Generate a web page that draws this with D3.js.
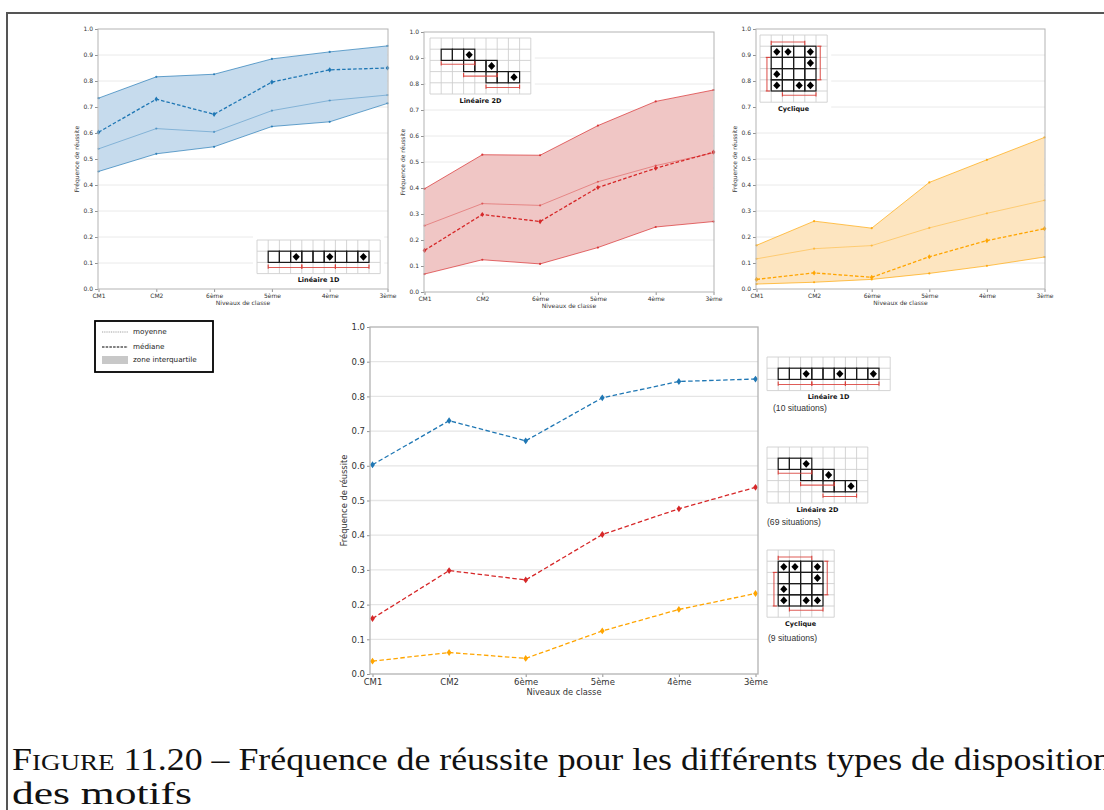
<!DOCTYPE html>
<html><head><meta charset="utf-8">
<script src="https://cdn.jsdelivr.net/npm/d3@7"></script>
<style>body{margin:0;background:#fff}svg{display:block}</style>
</head><body>
<svg id="c" width="1104" height="810"></svg>
<script>
// ---------- data ----------
const levels = ["CM1","CM2","6ème","5ème","4ème","3ème"];
const yTicks = [0,0.1,0.2,0.3,0.4,0.5,0.6,0.7,0.8,0.9,1.0];

// Linéaire 1D
const lin1dQ3     = [0.734,0.816,0.826,0.885,0.912,0.935];
const lin1dMedian = [0.603,0.730,0.672,0.796,0.843,0.850];
const lin1dMean   = [0.539,0.617,0.604,0.686,0.725,0.746];
const lin1dQ1     = [0.452,0.520,0.547,0.625,0.643,0.714];
// Linéaire 2D
const lin2dQ3     = [0.397,0.528,0.526,0.640,0.733,0.777];
const lin2dMean   = [0.255,0.340,0.333,0.424,0.486,0.535];
const lin2dMedian = [0.160,0.298,0.271,0.402,0.476,0.538];
const lin2dQ1     = [0.069,0.124,0.108,0.171,0.250,0.271];
// Cyclique
const cycQ3     = [0.168,0.261,0.234,0.410,0.497,0.583];
const cycMean   = [0.116,0.155,0.167,0.235,0.291,0.341];
const cycMedian = [0.037,0.062,0.045,0.124,0.186,0.232];
const cycQ1     = [0.019,0.026,0.037,0.060,0.089,0.123];

const typeNames = ["Linéaire 1D","Linéaire 2D","Cyclique"];
const situations = ["(10 situations)","(69 situations)","(9 situations)"];
const legendLabels = ["moyenne","médiane","zone interquartile"];
const captionLine1 = ["Figure"," 11.20 – Fréquence de réussite pour les différents types de disposition"];
const captionLine2 = "des motifs";

// icon patterns ('.' empty, 'X' outlined cell, 'D' outlined cell with diamond)
const icon1D = ["...........",
                ".XXDXXDXXD.",
                "..........."];
const icon2D = [".........",
                ".XXD.....",
                "...XXD...",
                ".....XXD.",
                "........."];
const iconCyc = ["......",
                 ".DDXD.",
                 ".XXXD.",
                 ".DXXX.",
                 ".DXDD.",
                 "......"];
// brackets: [x1,y1,x2,y2,tickDx,tickDy] in cell units
const br1D  = [[1,2.45,4,2.45,0,-1],[4,2.45,7,2.45,0,-1],[7,2.45,10,2.45,0,-1]];
const br2D  = [[1,2.35,4,2.35,0,-1],[3,3.4,6,3.4,0,-1],[5,4.42,8,4.42,0,-1]];
const brCyc = [[1,0.62,4,0.62,0,1],[5.38,1,5.38,4,-1,0],[2,5.38,5,5.38,0,-1],[0.62,2,0.62,5,1,0]];

// ---------- drawing ----------
const svg = d3.select("#c");
const SANS = "'DejaVu Sans', sans-serif";
const colBlue = "#1f77b4", colRed = "#d62728", colOrange = "#ffa500";
const CELL = 11.2;

// frame
svg.append("line").attr("x1",7).attr("x2",1104).attr("y1",13).attr("y2",13).attr("stroke","#555").attr("stroke-width",2);
svg.append("line").attr("x1",7).attr("x2",7).attr("y1",12).attr("y2",810).attr("stroke","#555").attr("stroke-width",2);

function diamondPath(cx, cy, rx, ry){
  return `M${cx},${cy-ry}L${cx+rx},${cy}L${cx},${cy+ry}L${cx-rx},${cy}Z`;
}

function drawIcon(pattern, brackets, label, gx, gy, fs){
  const rows = pattern.length, cols = pattern[0].length;
  const W = cols*CELL, H = rows*CELL;
  const g = svg.append("g").attr("transform",`translate(${gx},${gy})`);
  g.append("rect").attr("x",-4).attr("y",-4).attr("width",W+8).attr("height",H+16).attr("fill","#fff");
  g.selectAll("line.v").data(d3.range(cols+1)).join("line")
    .attr("x1",d=>d*CELL).attr("x2",d=>d*CELL).attr("y1",0).attr("y2",H)
    .attr("stroke","#cfcfcf").attr("stroke-width",0.9);
  g.selectAll("line.h").data(d3.range(rows+1)).join("line")
    .attr("y1",d=>d*CELL).attr("y2",d=>d*CELL).attr("x1",0).attr("x2",W)
    .attr("stroke","#cfcfcf").attr("stroke-width",0.9);
  const cells = [];
  pattern.forEach((row,r)=>row.split("").forEach((ch,c)=>{ if(ch!==".") cells.push({r,c,d:ch==="D"}); }));
  g.selectAll("rect.cell").data(cells).join("rect")
    .attr("x",d=>d.c*CELL).attr("y",d=>d.r*CELL).attr("width",CELL).attr("height",CELL)
    .attr("fill","none").attr("stroke","#1a1a1a").attr("stroke-width",1.2);
  g.selectAll("path.dia").data(cells.filter(d=>d.d)).join("path")
    .attr("d",d=>diamondPath((d.c+0.5)*CELL,(d.r+0.5)*CELL,3.6,3.9)).attr("fill","#000");
  brackets.forEach(b=>{
    const [x1,y1,x2,y2,tx,ty] = b;
    const p = g.append("g").attr("stroke","#d9403a").attr("stroke-width",1.1).attr("fill","none");
    p.append("line").attr("x1",x1*CELL).attr("y1",y1*CELL).attr("x2",x2*CELL).attr("y2",y2*CELL).attr("stroke-opacity",0.85);
    [[x1,y1],[x2,y2]].forEach(([x,y])=>{
      p.append("line").attr("x1",x*CELL - tx*1.2).attr("y1",y*CELL - ty*1.2)
        .attr("x2",x*CELL + tx*3).attr("y2",y*CELL + ty*3);
    });
  });
  g.append("text").attr("x",W/2).attr("y",H+8.5).attr("text-anchor","middle")
    .style("font-family",SANS).style("font-weight","bold").style("font-size",fs+"px").attr("fill","#111").text(label);
}

function chart(box, opt){
  const x = d3.scalePoint().domain(levels).range([box.x0+opt.pad, box.x1-opt.pad]);
  const y = d3.scaleLinear().domain([0,1]).range([box.y1, box.y0]);
  const g = svg.append("g");
  g.selectAll("line.grid").data(yTicks.filter(t=>t>0 && t<1)).join("line")
    .attr("x1",box.x0).attr("x2",box.x1).attr("y1",d=>y(d)).attr("y2",d=>y(d))
    .attr("stroke","#e5e5e5").attr("stroke-width",opt.gridW);
  if (opt.icon) opt.icon();
  const ax = g.append("g").attr("transform",`translate(0,${box.y1})`)
    .call(d3.axisBottom(x).tickSize(3).tickPadding(1.5));
  const ay = g.append("g").attr("transform",`translate(${box.x0},0)`)
    .call(d3.axisLeft(y).tickValues(yTicks).tickFormat(d3.format(".1f")).tickSize(3).tickPadding(2));
  [ax,ay].forEach(a=>{
    a.select(".domain").remove();
    a.selectAll(".tick line").attr("stroke","#777").attr("stroke-width",0.8);
    a.selectAll("text").style("font-family",SANS).style("font-size",opt.fs+"px").attr("fill","#333");
  });
  svg.append("text").attr("transform",`translate(${box.x0-opt.ylabOff},${(box.y0+box.y1)/2}) rotate(-90)`)
    .attr("text-anchor","middle").attr("dominant-baseline","middle")
    .style("font-family",SANS).style("font-size",opt.lfs+"px").attr("fill","#333").text("Fréquence de réussite");
  svg.append("text").attr("x",(box.x0+box.x1)/2).attr("y",box.y1+opt.xlabOff)
    .attr("text-anchor","middle").attr("dominant-baseline","middle")
    .style("font-family",SANS).style("font-size",opt.lfs+"px").attr("fill","#333").text("Niveaux de classe");
  const frame = ()=> svg.append("rect").attr("x",box.x0).attr("y",box.y0).attr("width",box.x1-box.x0).attr("height",box.y1-box.y0)
      .attr("fill","none").attr("stroke","#b3b3b3").attr("stroke-width",opt.frameW);
  return {x,y,g,frame};
}

function detailPanel(box, q1, mean, median, q3, color, fillColor, icon){
  const c = chart(box,{pad:0.5, fs:6, lfs:6, gridW:0.8, frameW:1, ylabOff:21, xlabOff:14, icon});
  const {x,y} = c;
  const idx = d3.range(levels.length);
  const area = d3.area().x(i=>x(levels[i])).y0(i=>y(q1[i])).y1(i=>y(q3[i]));
  svg.append("path").datum(idx).attr("d",area).attr("fill",fillColor);
  const line = arr => d3.line().x(i=>x(levels[i])).y(i=>y(arr[i]))(idx);
  [[q1,0.75],[q3,0.75],[mean,0.45]].forEach(([arr,op])=>{
    svg.append("path").attr("d",line(arr)).attr("fill","none").attr("stroke",color).attr("stroke-opacity",op).attr("stroke-width",0.9);
    svg.append("g").selectAll("circle").data(idx).join("circle")
      .attr("cx",i=>x(levels[i])).attr("cy",i=>y(arr[i])).attr("r",1.1).attr("fill",color).attr("fill-opacity",op+0.1);
  });
  svg.append("path").attr("d",line(median)).attr("fill","none").attr("stroke",color).attr("stroke-width",1.3).attr("stroke-dasharray","3.5,2");
  svg.append("g").selectAll("path").data(idx).join("path")
    .attr("d",i=>diamondPath(x(levels[i]),y(median[i]),1.8,2.6)).attr("fill",color);
  c.frame();
}

// Top panels
detailPanel({x0:98,x1:388,y0:29,y1:289}, lin1dQ1, lin1dMean, lin1dMedian, lin1dQ3, colBlue, "#c6dbed",
  ()=>drawIcon(icon1D, br1D, typeNames[0], 257, 240, 6.5));
detailPanel({x0:424,x1:714,y0:32,y1:292}, lin2dQ1, lin2dMean, lin2dMedian, lin2dQ3, colRed, "#f0c6c5",
  ()=>drawIcon(icon2D, br2D, typeNames[1], 430, 38, 6.5));
detailPanel({x0:756,x1:1045,y0:29,y1:289}, cycQ1, cycMean, cycMedian, cycQ3, colOrange, "#fde5c0",
  ()=>drawIcon(iconCyc, brCyc, typeNames[2], 760, 35, 6.5));

// Main chart
(function(){
  const box = {x0:370,x1:758,y0:327,y1:674};
  const c = chart(box,{pad:2.5, fs:8.5, lfs:8.3, gridW:1.3, frameW:1.3, ylabOff:26, xlabOff:18});
  const {x,y} = c;
  const idx = d3.range(levels.length);
  [[lin1dMedian,colBlue],[lin2dMedian,colRed],[cycMedian,colOrange]].forEach(([arr,color])=>{
    svg.append("path").attr("d",d3.line().x(i=>x(levels[i])).y(i=>y(arr[i]))(idx))
      .attr("fill","none").attr("stroke",color).attr("stroke-width",1.3).attr("stroke-dasharray","4.5,2.5");
    svg.append("g").selectAll("path").data(idx).join("path")
      .attr("d",i=>diamondPath(x(levels[i]),y(arr[i]),2.4,3.4)).attr("fill",color);
  });
  c.frame();
})();

// icons beside the main chart
drawIcon(icon1D, br1D, typeNames[0], 767, 357, 6.5);
drawIcon(icon2D, br2D, typeNames[1], 767, 447, 6.5);
drawIcon(iconCyc, brCyc, typeNames[2], 767, 550, 6.5);
const sitPos = [[773,411],[767,525],[768,641]];
situations.forEach((t,i)=>{
  svg.append("text").attr("x",sitPos[i][0]).attr("y",sitPos[i][1])
    .style("font-family","'Liberation Sans', Arial, sans-serif").style("font-size","8.6px").attr("fill","#333").text(t);
});

// legend
(function(){
  const g = svg.append("g");
  g.append("rect").attr("x",95).attr("y",321).attr("width",118).attr("height",51)
    .attr("fill","#fff").attr("stroke","#000").attr("stroke-width",1.8);
  const ys = [332,347,360];
  g.append("line").attr("x1",102).attr("x2",128).attr("y1",ys[0]).attr("y2",ys[0])
    .attr("stroke","#888").attr("stroke-width",0.8).attr("stroke-dasharray","1,0.8");
  g.append("line").attr("x1",102).attr("x2",128).attr("y1",ys[1]).attr("y2",ys[1])
    .attr("stroke","#000").attr("stroke-width",1).attr("stroke-dasharray","2.5,1.2");
  g.append("rect").attr("x",102).attr("y",ys[2]-4).attr("width",26).attr("height",8).attr("fill","#c8c8c8");
  legendLabels.forEach((t,i)=>{
    g.append("text").attr("x",133).attr("y",ys[i]).attr("dominant-baseline","middle")
      .style("font-family",SANS).style("font-size","7.2px").attr("fill","#222").text(t);
  });
})();

// caption
(function(){
  const SERIF = "'Liberation Serif', serif";
  const t1 = svg.append("text").attr("x",12).attr("y",770).style("font-family",SERIF).style("font-size","30.5px").attr("fill","#111");
  t1.append("tspan").text(captionLine1[0][0]);
  t1.append("tspan").style("font-size","23px").text(captionLine1[0].slice(1).toUpperCase());
  t1.append("tspan").text(captionLine1[1]);
  t1.attr("textLength",1111-12).attr("lengthAdjust","spacingAndGlyphs");
  svg.append("text").attr("x",12).attr("y",804).style("font-family",SERIF).style("font-size","30.5px").attr("fill","#111")
    .attr("textLength",180).attr("lengthAdjust","spacingAndGlyphs").text(captionLine2);
})();
</script>
</body></html>
